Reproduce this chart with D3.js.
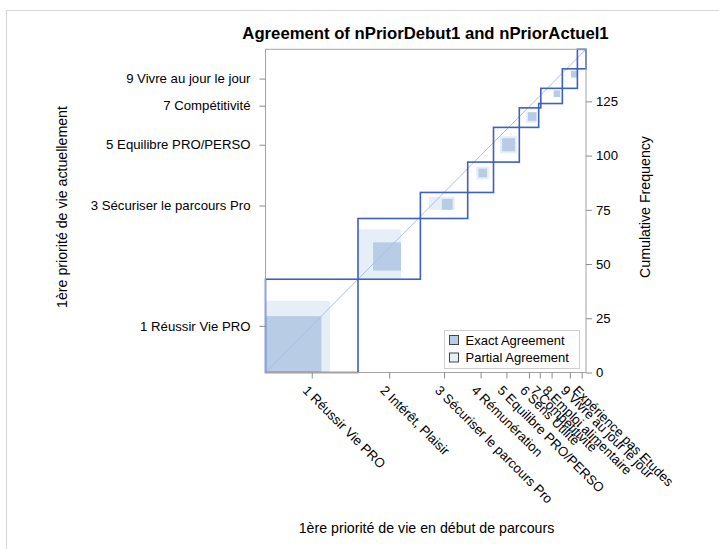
<!DOCTYPE html>
<html>
<head>
<meta charset="utf-8">
<script src="https://cdn.jsdelivr.net/npm/d3@7"></script>
<style>
  html, body { margin: 0; padding: 0; background: #fff; }
  svg { display: block; font-family: "Liberation Sans", Arial, sans-serif; }
</style>
</head>
<body>
<svg id="chart" width="719" height="549"></svg>
<script>
// Priority categories (same coding for both variables)
const categories = [
  "1 Réussir Vie PRO", "2 Intérêt, Plaisir", "3 Sécuriser le parcours Pro",
  "4 Rémunération", "5 Equilibre PRO/PERSO", "6 Sens Utilité",
  "7 Compétitivité", "8 Emploi alimentaire", "9 Vivre au jour le jour",
  "Expérience pas Etudes"
];
// Marginal frequencies: début de parcours (x) and actuellement (y)
const debutFreq  = [43, 29, 22, 12, 12, 9, 1, 10, 7, 4];
const actuelFreq = [43, 28, 12, 14, 16, 9, 2, 7, 9, 9];
// Diagonal cells (same priority at both times)
const exactFreq  = [26, 13, 5, 4, 6, 4, 0, 3, 3, 1];
// Count in each début category with a lower-ranked current priority
const debutBelow  = [0, 7, 10, 5, 4, 4, 0, 6, 4, 3];
// Count in each current category with a lower-ranked début priority
const actuelBelow = [0, 4, 4, 7, 5, 3, 0, 3, 5, 8];
// Neighbouring off-diagonal cells: (début k, actuel k+1) and (début k+1, actuel k)
const upperAdj = [4, 0, 1, 1, 1, 0, 0, 0, 0];
const lowerAdj = [7, 6, 1, 1, 1, 0, 0, 0, 1];
// Labels kept on the thinned left axis, and the cumulative axis ticks
const yTickLabels = ["1 Réussir Vie PRO", "3 Sécuriser le parcours Pro",
  "5 Equilibre PRO/PERSO", "7 Compétitivité", "9 Vivre au jour le jour"];
const cumTicks = [0, 25, 50, 75, 100, 125];

const svg = d3.select("#chart");
const W = 719, H = 549;
const plot = { left: 265.5, right: 586, top: 49.3, bottom: 372.5 };
const tickFont = 13.2, titleFont = 14.2;

const N = d3.sum(debutFreq);
const xCum = [0, ...d3.cumsum(debutFreq)];
const yCum = [0, ...d3.cumsum(actuelFreq)];

const x = d3.scaleLinear().domain([0, N]).range([plot.left, plot.right]);
const y = d3.scaleLinear().domain([0, N]).range([plot.bottom, plot.top]);

const xCat = d3.scaleOrdinal().domain(categories)
  .range(categories.map((c, i) => x((xCum[i] + xCum[i + 1]) / 2)));
const yCat = d3.scaleOrdinal().domain(categories)
  .range(categories.map((c, i) => y((yCum[i] + yCum[i + 1]) / 2)));

const colors = {
  exact: "#b8cce6", partial: "#e6eef8", outline: "#3f60bd",
  diag: "#aabfe6", frame: "#a3a3a3", text: "#000"
};

// outer border of the graph
svg.append("rect")
  .attr("x", 6.5).attr("y", 10.5).attr("width", W).attr("height", H)
  .attr("fill", "none").attr("stroke", "#d4d4d4");

// title
svg.append("text")
  .attr("x", 425.5).attr("y", 39).attr("text-anchor", "middle")
  .attr("font-size", 16.7).attr("font-weight", "bold")
  .text("Agreement of nPriorDebut1 and nPriorActuel1");

const idx = d3.range(categories.length);

// partial agreement regions
const partial = idx.map(k => {
  const xl = k > 0 ? lowerAdj[k - 1] : 0, xr = k < upperAdj.length ? upperAdj[k] : 0;
  const yl = k > 0 ? upperAdj[k - 1] : 0, yr = k < lowerAdj.length ? lowerAdj[k] : 0;
  return {
    x0: xCum[k] + debutBelow[k] - xl, x1: xCum[k] + debutBelow[k] + exactFreq[k] + xr,
    y0: yCum[k] + actuelBelow[k] - yl, y1: yCum[k] + actuelBelow[k] + exactFreq[k] + yr
  };
}).filter(r => r.x1 > r.x0 && r.y1 > r.y0);

svg.append("g").selectAll("rect").data(partial).join("rect")
  .attr("x", d => x(d.x0)).attr("width", d => x(d.x1) - x(d.x0))
  .attr("y", d => y(d.y1)).attr("height", d => y(d.y0) - y(d.y1))
  .attr("fill", colors.partial);

// exact agreement squares
const exact = idx.filter(k => exactFreq[k] > 0).map(k => ({
  x0: xCum[k] + debutBelow[k], x1: xCum[k] + debutBelow[k] + exactFreq[k],
  y0: yCum[k] + actuelBelow[k], y1: yCum[k] + actuelBelow[k] + exactFreq[k]
}));
svg.append("g").selectAll("rect").data(exact).join("rect")
  .attr("x", d => x(d.x0)).attr("width", d => x(d.x1) - x(d.x0))
  .attr("y", d => y(d.y1)).attr("height", d => y(d.y0) - y(d.y1))
  .attr("fill", colors.exact);

// reference diagonal
svg.append("line")
  .attr("x1", x(0)).attr("y1", y(0)).attr("x2", x(N)).attr("y2", y(N))
  .attr("stroke", colors.diag).attr("stroke-width", 1);

// marginal rectangles
svg.append("g").selectAll("rect").data(idx).join("rect")
  .attr("x", k => x(xCum[k])).attr("width", k => x(xCum[k + 1]) - x(xCum[k]))
  .attr("y", k => y(yCum[k + 1])).attr("height", k => y(yCum[k]) - y(yCum[k + 1]))
  .attr("fill", "none").attr("stroke", colors.outline).attr("stroke-width", 1.6);

// plot frame
svg.append("rect")
  .attr("x", plot.left).attr("y", plot.top)
  .attr("width", plot.right - plot.left).attr("height", plot.bottom - plot.top)
  .attr("fill", "none").attr("stroke", colors.frame);

function styleAxis(g) {
  g.select(".domain").remove();
  g.selectAll(".tick line").attr("stroke", "#8c8c8c");
  g.selectAll(".tick text").attr("fill", colors.text).attr("font-size", tickFont)
    .attr("font-family", "Liberation Sans, Arial, sans-serif");
}

// bottom axis: categories, labels slanted
const gx = svg.append("g").attr("transform", `translate(0,${plot.bottom})`)
  .call(d3.axisBottom(xCat).tickSize(6).tickPadding(3)).call(styleAxis);
gx.selectAll(".tick text")
  .attr("text-anchor", "start")
  .attr("transform", "translate(-7,15.5) rotate(45)")
  .attr("x", 0).attr("y", 0).attr("dy", "0.35em");

// left axis: thinned category labels
svg.append("g").attr("transform", `translate(${plot.left},0)`)
  .call(d3.axisLeft(yCat).tickValues(yTickLabels).tickSize(6).tickPadding(9))
  .call(styleAxis);

// right axis: cumulative frequency
svg.append("g").attr("transform", `translate(${plot.right},0)`)
  .call(d3.axisRight(y).tickValues(cumTicks).tickSize(6).tickPadding(4))
  .call(styleAxis);

// axis titles
svg.append("text")
  .attr("transform", "translate(67,207) rotate(-90)")
  .attr("text-anchor", "middle").attr("font-size", titleFont)
  .text("1ère priorité de vie actuellement");
svg.append("text")
  .attr("transform", "translate(650,207) rotate(-90)")
  .attr("text-anchor", "middle").attr("font-size", titleFont)
  .text("Cumulative Frequency");
svg.append("text")
  .attr("x", 426.5).attr("y", 533).attr("text-anchor", "middle").attr("font-size", titleFont)
  .text("1ère priorité de vie en début de parcours");

// legend
const lg = svg.append("g").attr("transform", "translate(444.5,330.5)");
lg.append("rect").attr("width", 135).attr("height", 38)
  .attr("fill", "#fff").attr("stroke", "#cfcfcf");
const items = [["Exact Agreement", colors.exact], ["Partial Agreement", colors.partial]];
items.forEach(([label, fill], i) => {
  const row = lg.append("g").attr("transform", `translate(5,${5 + i * 17.5})`);
  row.append("rect").attr("width", 9).attr("height", 9)
    .attr("fill", fill).attr("stroke", "#444");
  row.append("text").attr("x", 16).attr("y", 4.5).attr("dy", "0.35em")
    .attr("font-size", 13).text(label);
});
</script>
</body>
</html>
